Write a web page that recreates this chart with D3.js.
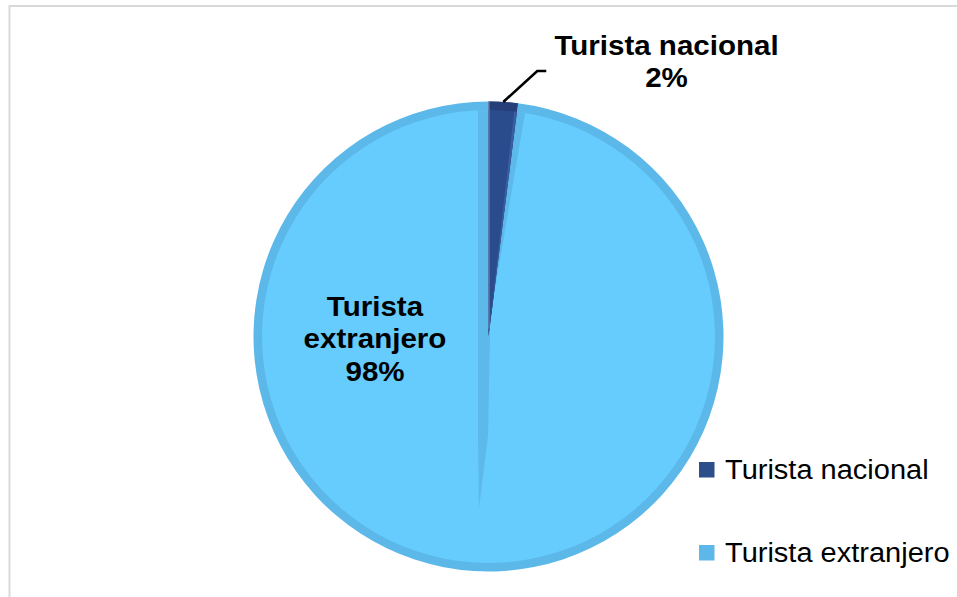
<!DOCTYPE html>
<html>
<head>
<meta charset="utf-8">
<script src="https://cdn.jsdelivr.net/npm/d3@7"></script>
<style>
  html, body { margin: 0; padding: 0; background: #fff; }
  svg { display: block; font-family: Arial, "Liberation Sans", Helvetica, sans-serif; }
</style>
</head>
<body>
<svg id="chart" width="957" height="597"></svg>
<script>
// Share of visitors by origin
const categories = ["Turista nacional", "Turista extranjero"];
const shares = [2, 98];
const labelTexts = ["2%", "98%"];

const fillColors = ["#2A4C8C", "#66CBFD"];
const rimColors = ["#263F78", "#5BB8E8"];
const legendColors = ["#2C4F8B", "#5BB8E8"];

const svg = d3.select("#chart");
const W = 957, H = 597;

// chart frame
svg.append("rect")
  .attr("x", 9.5).attr("y", 6)
  .attr("width", W + 10).attr("height", H + 10)
  .attr("fill", "#fff")
  .attr("stroke", "#D9D9D9").attr("stroke-width", 2);

const cx = 488.5, cy = 336.5, r = 235, rim = 8.5;

const pie = d3.pie().sort(null).startAngle(0).endAngle(2 * Math.PI);
const arcs = pie(shares);

const g = svg.append("g").attr("transform", `translate(${cx},${cy})`);

const outerArc = d3.arc().innerRadius(0).outerRadius(r);
const innerArc = d3.arc().innerRadius(0).outerRadius(r - rim);

// slice bodies: darker rim, then flat face
g.selectAll("path.rim").data(arcs).join("path")
  .attr("class", "rim")
  .attr("d", outerArc)
  .attr("fill", (d, i) => rimColors[i]);

g.selectAll("path.face").data(arcs).join("path")
  .attr("class", "face")
  .attr("d", innerArc)
  .attr("fill", (d, i) => fillColors[i]);

// bevel shading along the radial edges
const polar = (rad, ang) => [rad * Math.sin(ang), -rad * Math.cos(ang)];
const a0 = arcs[0].startAngle, a1 = arcs[0].endAngle;
const bandW = 11;
const topY = -Math.sqrt((r - rim) ** 2 - bandW ** 2);

// band on the left of the vertical edge, running through the centre and tapering below
const leftBand = [
  [-bandW + 0.5, topY],
  [0.5, topY],
  [1.5, 0],
  [-0.5, r * 0.42],
  [-9.5, r * 0.73],
  [-bandW + 0.5, r * 0.42]
];
g.append("path")
  .attr("d", d3.line()(leftBand) + "Z")
  .attr("fill", "#5CB9E9");

// band on the right side of the small slice
const rb0 = polar(r - rim, a1), rb1 = polar(r - rim, a1 + 0.036);
const rightBand = [rb0, rb1, polar(r * 0.2, a1 + 0.01), [4, -r * 0.2]];
g.append("path")
  .attr("d", d3.line()(rightBand) + "Z")
  .attr("fill", "#5CB9E9");

// redraw the small slice on top with its highlight
g.append("path")
  .attr("d", outerArc(arcs[0]))
  .attr("fill", rimColors[0]);
g.append("path")
  .attr("d", innerArc(arcs[0]))
  .attr("fill", fillColors[0]);
const hl = [polar(r - rim, a1 - 0.012), polar(r - rim, a1), [0, 0]];
g.append("path")
  .attr("d", d3.line()(hl) + "Z")
  .attr("fill", "#3F63A6")
  .attr("opacity", 0.8);
g.append("line")
  .attr("x1", 0.5).attr("y1", -r).attr("x2", 0.5).attr("y2", -8)
  .attr("stroke", "#8FA6C4").attr("stroke-width", 1).attr("opacity", 0.7);

// leader line from the small slice to its label
const mid0 = (a0 + a1) / 2;
const p0 = polar(r, mid0);
const p1 = [p0[0] + 34, p0[1] - 31];
const p2 = [p1[0] + 9, p1[1]];
g.append("path")
  .attr("d", d3.line()([p0, p1, p2]))
  .attr("fill", "none")
  .attr("stroke", "#000")
  .attr("stroke-width", 2.6);

// data labels (slightly widened type)
function multiLine(x, y, lines, gaps) {
  const t = svg.append("g")
    .attr("transform", `translate(${x},${y}) scale(1.055,1)`)
    .append("text")
    .attr("font-weight", "bold")
    .attr("font-size", 28)
    .attr("fill", "#000")
    .attr("text-anchor", "middle");
  lines.forEach((s, i) => {
    t.append("tspan").attr("x", 0).attr("dy", i === 0 ? 0 : gaps[i - 1]).text(s);
  });
}
multiLine(666.5, 55, [categories[0], labelTexts[0]], [32]);
multiLine(375, 316, ["Turista", "extranjero", labelTexts[1]], [32.5, 33]);

// legend
const legend = svg.append("g");
const items = legend.selectAll("g").data(categories).join("g")
  .attr("transform", (d, i) => `translate(699,${462 + i * 83})`);
items.append("rect")
  .attr("width", 15.5).attr("height", 15.5)
  .attr("fill", (d, i) => legendColors[i]);
items.append("text")
  .attr("transform", "translate(26,17) scale(1.036,1)")
  .attr("font-size", 28)
  .attr("fill", "#000")
  .text(d => d);
</script>
</body>
</html>
